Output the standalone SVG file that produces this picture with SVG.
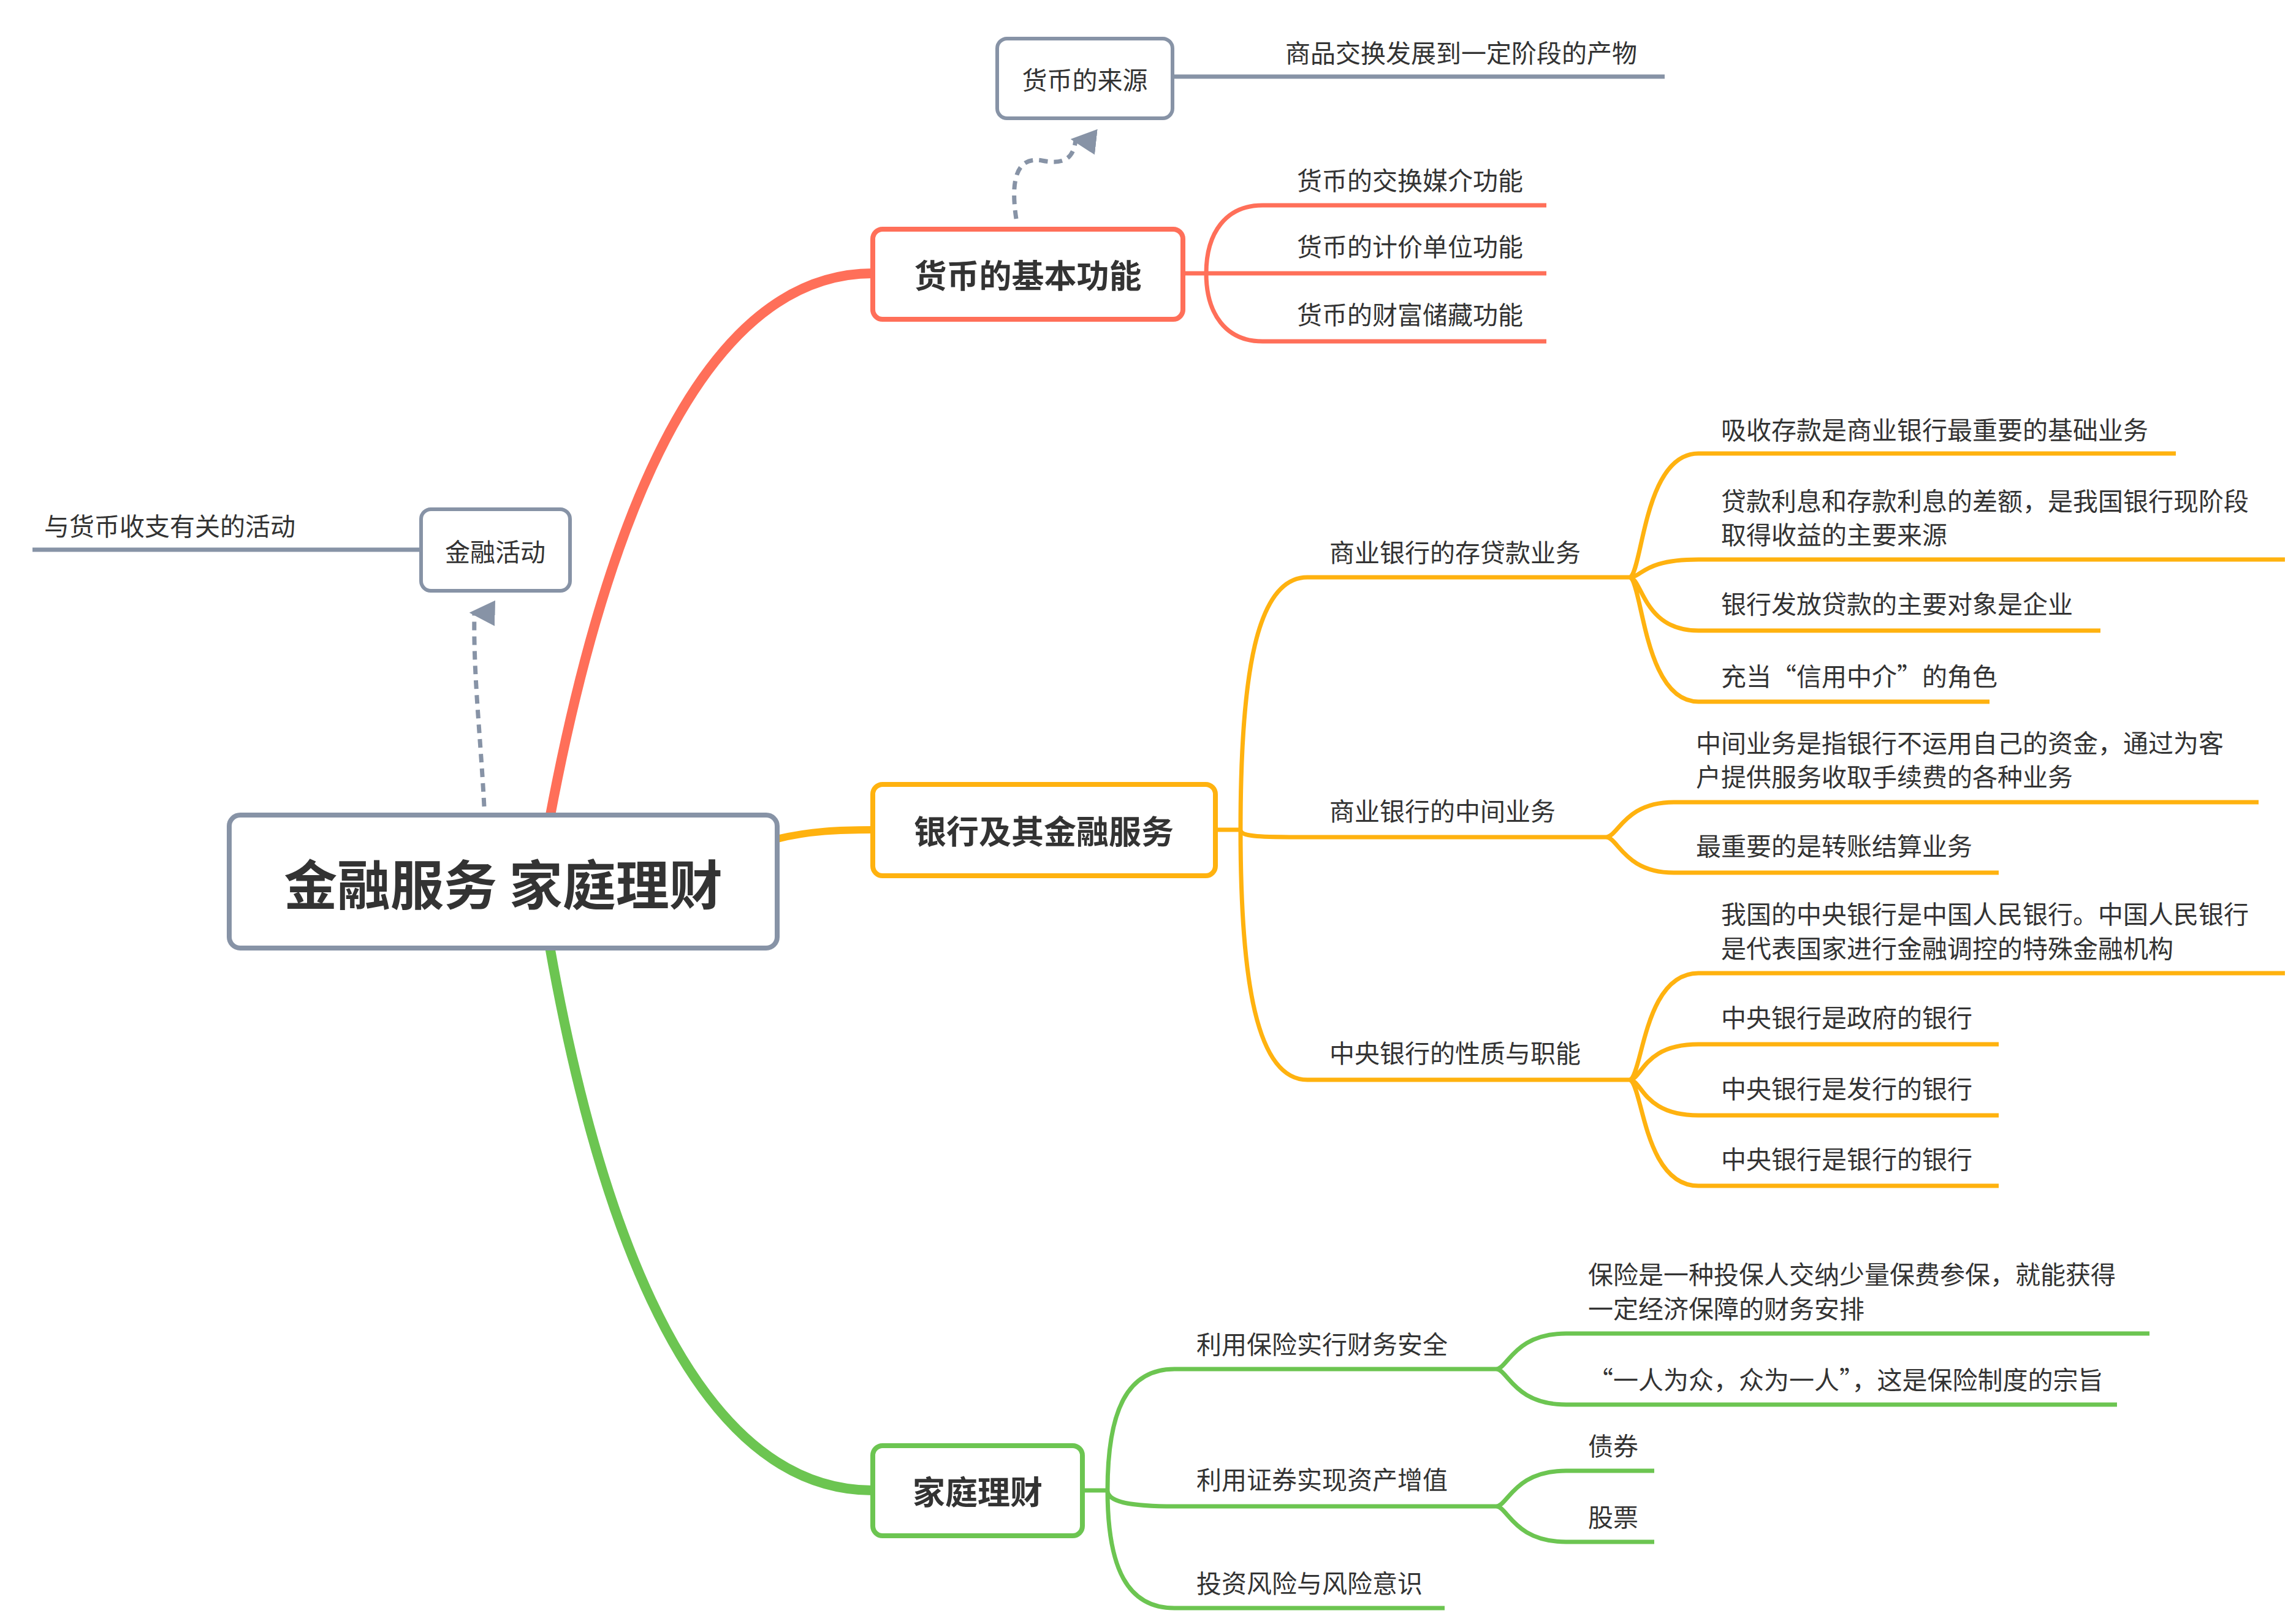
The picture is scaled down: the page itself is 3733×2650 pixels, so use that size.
<svg xmlns="http://www.w3.org/2000/svg" width="3733" height="2650" viewBox="0 0 3733 2650">
<defs>
<style>
text{font-family:"Noto Sans CJK SC","Noto Sans",sans-serif;fill:#333;dominant-baseline:central}
.t{font-size:41px}
.b{font-size:53px;font-weight:bold}
.r{stroke:#FF6F59;fill:none}
.o{stroke:#FFB20F;fill:none}
.g{stroke:#6CC551;fill:none}
.gr{stroke:#8793A6;fill:none}
.l{stroke-width:7}
</style>
<marker id="ah" viewBox="0 0 10 10" refX="5" refY="2" markerWidth="6" markerHeight="6" orient="auto-start-reverse" markerUnits="strokeWidth">
<path d="M0,10 L5,0 L10,10 z" fill="#8793A6"/>
</marker>
</defs>
<rect width="3733" height="2650" fill="#fff"/>
<g id="connectors">
<path class="r" stroke-width="16" d="M897,1335 C960,1000 1100,446 1424,446"/>
<path class="o" stroke-width="12" d="M1268,1369 C1320,1356 1370,1354 1424,1354"/>
<path class="g" stroke-width="16" d="M897,1545 C960,1900 1100,2432 1424,2432"/>
<path class="r l" d="M1930,446 L1968,446 M1968,446 C1968,380 2000,335 2060,335 L2523,335 M1968,446 L2523,446 M1968,446 C1968,512 2000,557 2060,557 L2523,557"/>
<path class="gr l" d="M1913,125 L2716,125 M687,897 L53,897"/>
<path class="gr" stroke-width="7" stroke-dasharray="14,10" d="M1658,357 C1648,290 1660,255 1700,262 C1740,270 1752,255 1755,228" marker-end="url(#ah)"/>
<path class="gr" stroke-width="7" stroke-dasharray="14,10" d="M790,1316 C784,1200 772,1100 774,1000" marker-end="url(#ah)"/>
<path class="o l" d="M1983,1354 L2024,1354 M2024,1354 C2024,1100 2050,942 2133,942 L2658,942 M2024,1354 C2024,1366 2060,1366 2133,1366 L2620,1366 M2024,1354 C2024,1600 2050,1762 2133,1762 L2658,1762"/>
<path class="o l" d="M2658,942 C2680,942 2680,740 2771,740 L3550,740 M2658,942 C2680,942 2680,913 2771,913 L3728,913 M2658,942 C2680,942 2680,1029 2771,1029 L3427,1029 M2658,942 C2680,942 2680,1145 2771,1145 L3246,1145"/>
<path class="o l" d="M2620,1366 C2640,1366 2650,1309 2731,1309 L3685,1309 M2620,1366 C2640,1366 2650,1424 2731,1424 L3261,1424"/>
<path class="o l" d="M2658,1762 C2680,1762 2680,1588 2771,1588 L3728,1588 M2658,1762 C2680,1762 2680,1704 2771,1704 L3261,1704 M2658,1762 C2680,1762 2680,1820 2771,1820 L3261,1820 M2658,1762 C2680,1762 2680,1935 2771,1935 L3261,1935"/>
<path class="g l" d="M1766,2432 L1807,2432 M1807,2432 C1807,2300 1840,2234 1916,2234 L2441,2234 M1807,2432 C1807,2450 1840,2458 1916,2458 L2441,2458 M1807,2432 C1807,2560 1840,2624 1916,2624 L2357,2624"/>
<path class="g l" d="M2441,2234 C2460,2234 2470,2176 2555,2176 L3507,2176 M2441,2234 C2460,2234 2470,2292 2555,2292 L3454,2292"/>
<path class="g l" d="M2441,2458 C2460,2458 2470,2400 2555,2400 L2699,2400 M2441,2458 C2460,2458 2470,2516 2555,2516 L2699,2516"/>
</g>
<g id="root"><rect x="374" y="1330" width="894" height="217" rx="18" fill="#fff" stroke="#8793A6" stroke-width="8"/><text x="821" y="1439" text-anchor="middle" font-size="87" font-weight="bold">金融服务 家庭理财</text></g>
<g id="n1"><rect x="1424" y="374" width="506" height="147" rx="16" fill="#fff" stroke="#FF6F59" stroke-width="8"/><text x="1677" y="447" text-anchor="middle" class="b">货币的基本功能</text></g>
<g id="n2"><rect x="1424" y="1280" width="559" height="149" rx="16" fill="#fff" stroke="#FFB20F" stroke-width="8"/><text x="1703" y="1354" text-anchor="middle" class="b">银行及其金融服务</text></g>
<g id="n3"><rect x="1424" y="2359" width="342" height="147" rx="16" fill="#fff" stroke="#6CC551" stroke-width="8"/><text x="1595" y="2432" text-anchor="middle" class="b">家庭理财</text></g>
<g id="n4"><rect x="1627" y="63" width="286" height="130" rx="16" fill="#fff" stroke="#8793A6" stroke-width="6"/><text x="1770" y="128" text-anchor="middle" class="t">货币的来源</text></g>
<g id="n5"><rect x="687" y="831" width="243" height="133" rx="16" fill="#fff" stroke="#8793A6" stroke-width="6"/><text x="808" y="898" text-anchor="middle" class="t">金融活动</text></g>
<g id="labels" class="t">
<text class="t" x="2097" y="84">商品交换发展到一定阶段的产物</text>
<text class="t" x="72" y="856">与货币收支有关的活动</text>
<text class="t" x="2116" y="292">货币的交换媒介功能</text>
<text class="t" x="2116" y="400">货币的计价单位功能</text>
<text class="t" x="2116" y="511">货币的财富储藏功能</text>
<text class="t" x="2169" y="899">商业银行的存贷款业务</text>
<text class="t" x="2169" y="1321">商业银行的中间业务</text>
<text class="t" x="2169" y="1716">中央银行的性质与职能</text>
<text class="t" x="2808" y="699">吸收存款是商业银行最重要的基础业务</text>
<text class="t" x="2808" y="815">贷款利息和存款利息的差额，是我国银行现阶段</text>
<text class="t" x="2808" y="870">取得收益的主要来源</text>
<text class="t" x="2808" y="983">银行发放贷款的主要对象是企业</text>
<text class="t" x="2808" y="1101">充当“信用中介”的角色</text>
<text class="t" x="2767" y="1210">中间业务是指银行不运用自己的资金，通过为客</text>
<text class="t" x="2767" y="1265">户提供服务收取手续费的各种业务</text>
<text class="t" x="2767" y="1378">最重要的是转账结算业务</text>
<text class="t" x="2808" y="1489">我国的中央银行是中国人民银行。中国人民银行</text>
<text class="t" x="2808" y="1545">是代表国家进行金融调控的特殊金融机构</text>
<text class="t" x="2808" y="1658">中央银行是政府的银行</text>
<text class="t" x="2808" y="1774">中央银行是发行的银行</text>
<text class="t" x="2808" y="1889">中央银行是银行的银行</text>
<text class="t" x="1952" y="2191">利用保险实行财务安全</text>
<text class="t" x="1952" y="2412">利用证券实现资产增值</text>
<text class="t" x="1952" y="2581">投资风险与风险意识</text>
<text class="t" x="2591" y="2077">保险是一种投保人交纳少量保费参保，就能获得</text>
<text class="t" x="2591" y="2133">一定经济保障的财务安排</text>
<text class="t" x="2591" y="2249">“一人为众，众为一人”，这是保险制度的宗旨</text>
<text class="t" x="2591" y="2357">债券</text>
<text class="t" x="2591" y="2473">股票</text>
</g>
</svg>
